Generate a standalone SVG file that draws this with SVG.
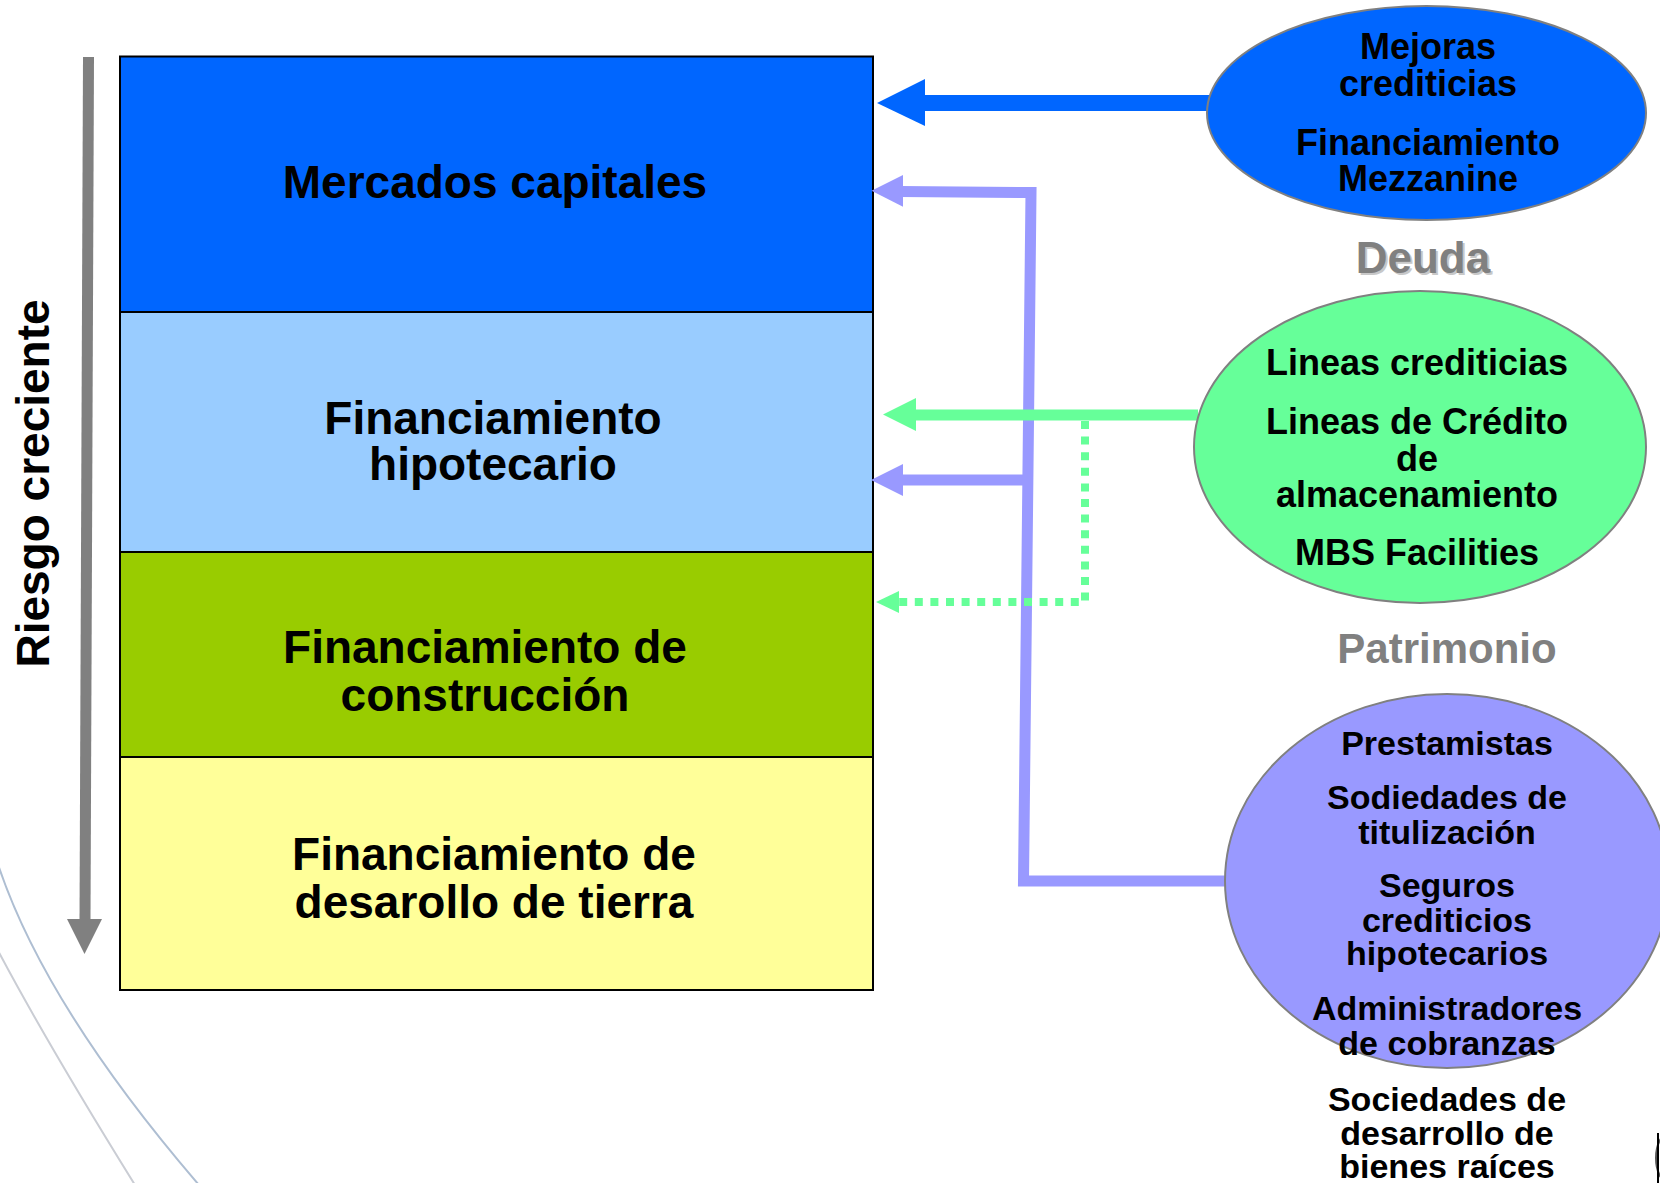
<svg xmlns="http://www.w3.org/2000/svg" width="1660" height="1183" viewBox="0 0 1660 1183">
<style>
text{font-family:"Liberation Sans",Arial,sans-serif;font-weight:bold;text-anchor:middle;fill:#000}
.box{stroke:#000;stroke-width:2}
.main{font-size:46px}
.e36{font-size:36px}
.e34{font-size:34px}
.ell{stroke:#808080;stroke-width:2}
.lav{fill:none;stroke:#9999FF;stroke-width:11}
.grn{fill:none;stroke:#66FF99;stroke-width:11}
.dot{fill:none;stroke:#66FF99;stroke-width:8;stroke-dasharray:8 7.6}
.arc{fill:none;stroke-width:2}
</style>
<rect width="1660" height="1183" fill="#fff"/>
<g id="decor">
<path class="arc" d="M-5,855 Q40,1000 199,1185" stroke="#AEBED2"/>
<path class="arc" d="M-5,945 Q45,1040 135,1185" stroke="#CACDD4"/>
<ellipse cx="1668" cy="1158" rx="12" ry="24" fill="#fff" stroke="#555" stroke-width="2"/>
<line x1="1658" y1="1133" x2="1658" y2="1183" stroke="#000" stroke-width="2"/>
</g>
<g id="riesgo">
<line x1="88.5" y1="57" x2="85" y2="921" stroke="#808080" stroke-width="11"/>
<polygon points="67,919 102,919 84.5,954" fill="#808080"/>
<text transform="translate(49,483.5) rotate(-90)" style="font-size:46px">Riesgo creciente</text>
</g>
<g id="mercados">
<rect class="box" x="120" y="56.5" width="753" height="255.5" fill="#0066FF"/>
<text class="main" x="495" y="198">Mercados capitales</text>
</g>
<g id="hipotecario">
<rect class="box" x="120" y="312" width="753" height="240" fill="#99CCFF"/>
<text class="main" x="493" y="434">Financiamiento</text>
<text class="main" x="493" y="480">hipotecario</text>
</g>
<g id="construccion">
<rect class="box" x="120" y="552" width="753" height="205" fill="#99CC00"/>
<text class="main" x="485" y="663">Financiamiento de</text>
<text class="main" x="485" y="711">construcción</text>
</g>
<g id="tierra">
<rect class="box" x="120" y="757" width="753" height="233" fill="#FFFF99"/>
<text class="main" x="494" y="870">Financiamiento de</text>
<text class="main" x="494" y="918">desarollo de tierra</text>
</g>
<g id="connectors">
<line x1="920" y1="103" x2="1210" y2="103" stroke="#0066FF" stroke-width="16"/>
<polygon points="877,103 925,79 925,126" fill="#0066FF"/>
<path class="lav" d="M900,191.5 L1031,192.5 L1023.5,881 L1228,881"/>
<polygon points="871.5,190.7 903,175 903,206.7" fill="#9999FF"/>
<path class="lav" d="M900,480 L1027,480"/>
<polygon points="871,480 903,464 903,496" fill="#9999FF"/>
<path class="grn" d="M912,415 L1198,415"/>
<polygon points="883,414.5 916,398 916,431" fill="#66FF99"/>
<path class="dot" d="M1085,421 L1085,602 L899,602"/>
<polygon points="876,602 899,591 899,613" fill="#66FF99"/>
</g>
<g id="mejoras">
<ellipse class="ell" cx="1426.5" cy="113" rx="219.5" ry="107" fill="#0066FF"/>
<text class="e36" x="1428" y="59">Mejoras</text>
<text class="e36" x="1428" y="96">crediticias</text>
<text class="e36" x="1428" y="155">Financiamiento</text>
<text class="e36" x="1428" y="191">Mezzanine</text>
</g>
<g id="deuda">
<text x="1425" y="275" style="font-size:44px;fill:#C8C8C8">Deuda</text>
<text x="1423" y="273" style="font-size:44px;fill:#808080">Deuda</text>
</g>
<g id="lineas">
<ellipse class="ell" cx="1420" cy="447" rx="226" ry="156" fill="#66FF99"/>
<text class="e36" x="1417" y="375">Lineas crediticias</text>
<text class="e36" x="1417" y="434">Lineas de Crédito</text>
<text class="e36" x="1417" y="471">de</text>
<text class="e36" x="1417" y="507">almacenamiento</text>
<text class="e36" x="1417" y="564.5">MBS Facilities</text>
</g>
<g id="patrimonio">
<text x="1447" y="663" style="font-size:42px;fill:#808080">Patrimonio</text>
</g>
<g id="prestamistas">
<ellipse class="ell" cx="1447" cy="881" rx="222" ry="187" fill="#9999FF"/>
<text class="e34" x="1447" y="755">Prestamistas</text>
<text class="e34" x="1447" y="809">Sodiedades de</text>
<text class="e34" x="1447" y="843.5">titulización</text>
<text class="e34" x="1447" y="897">Seguros</text>
<text class="e34" x="1447" y="932">crediticios</text>
<text class="e34" x="1447" y="965">hipotecarios</text>
<text class="e34" x="1447" y="1020">Administradores</text>
<text class="e34" x="1447" y="1055">de cobranzas</text>
<text class="e34" x="1447" y="1111">Sociedades de</text>
<text class="e34" x="1447" y="1145">desarrollo de</text>
<text class="e34" x="1447" y="1178">bienes raíces</text>
</g>
</svg>
